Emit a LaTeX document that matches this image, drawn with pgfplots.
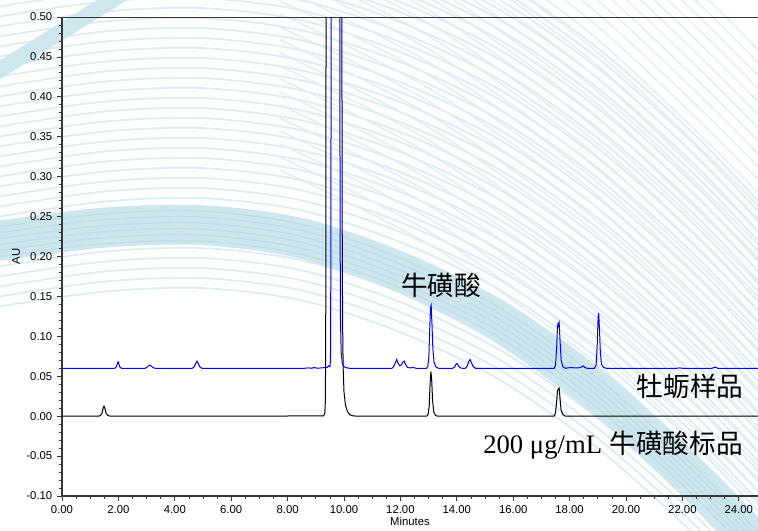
\documentclass[border=0pt]{standalone}
\usepackage{pgfplots}
\pgfplotsset{compat=1.18}
\usepackage{fontspec}
\setmainfont{Liberation Sans}
\newfontfamily\cjk{Noto Sans CJK SC}
\newfontfamily\latinserif{Liberation Serif}

\definecolor{wmthin}{RGB}{221,235,242}
\definecolor{wmthinB}{RGB}{226,238,244}
\definecolor{wmband}{RGB}{206,231,239}
\definecolor{wmbandline}{RGB}{191,222,232}
\definecolor{axisgray}{RGB}{55,55,55}

\begin{document}
\begin{tikzpicture}
\useasboundingbox (0pt,0pt) rectangle (568.5pt,-398.25pt);

% decorative background swirl (pixel units, y downwards)
\begin{scope}[x=0.75pt,y=-0.75pt]
  \clip (0,0) rectangle (758,531);
  \foreach \d in {-66,-56,...,340} {
    \draw[wmthin, line width=1.3pt, shift={(0,-\d)}]
      plot[smooth] coordinates {(-10,242) (100,226) (200,222) (300,234) (400,266) (500,314) (600,384) (700,474) (790,570)};
  }
  \foreach \d in {-210,-197,...,260} {
    \draw[wmthinB, line width=1.1pt, shift={(0,-\d)}]
      plot[smooth] coordinates {(280,-40) (430,35) (580,140) (690,240) (790,340)};
  }
  \draw[wmband, line width=30pt, line cap=butt]
    plot[smooth] coordinates {(-10,242) (100,228) (200,225) (300,238) (400,272) (500,322) (600,394) (700,486) (790,580)};
  \foreach \o in {-14,-8,...,16} {
    \draw[wmbandline, line width=1pt, shift={(0,\o)}]
      plot[smooth] coordinates {(-10,242) (100,228) (200,225) (300,238) (400,272) (500,322) (600,394) (700,486) (790,580)};
  }
  \draw[wmband, line width=12pt] (-10,76) -- (125,-8);
\end{scope}

\begin{axis}[
  at={(46.5pt,-372pt)}, anchor=south west,
  scale only axis, width=522pt, height=359.25pt,
  xmin=0, xmax=24.68, ymin=-0.1, ymax=0.5,
  axis x line*=bottom, axis y line*=left,
  axis line style={axisgray, line width=0.8pt},
  xtick={0,2,...,24}, ytick={-0.1,-0.05,...,0.51},
  minor x tick num=3, minor y tick num=4,
  tick align=outside,
  major tick length=3.75pt, minor tick length=2.2pt,
  every tick/.style={axisgray, line width=0.6pt},
  tick label style={font=\fontsize{8.5}{10}\selectfont},
  /pgf/number format/.cd, fixed, fixed zerofill, precision=2, assume math mode=true,
  /pgfplots/.cd,
  xlabel={Minutes}, ylabel={AU},
  label style={font=\fontsize{8.5}{10}\selectfont},
  xlabel style={yshift=4pt},
  ylabel style={yshift=-2pt},
  clip=true,
]
\draw[axisgray, line width=0.8pt] (rel axis cs:0,1) -- (rel axis cs:1,1);

% 200 ug/mL taurine standard
\addplot[black, line width=0.75pt] coordinates {
(0.00,0.0000) (1.30,0.0000) (1.37,0.0010) (1.42,0.0040) (1.46,0.0100) (1.49,0.0125)
(1.52,0.0100) (1.56,0.0040) (1.62,0.0010) (1.70,0.0000)
(5.00,0.0000) (9.28,0.0003) (9.32,0.0040) (9.34,0.0200) (9.355,0.1500) (9.365,0.6000)
(9.50,0.9500) (9.80,0.9500) (9.92,0.6000) (9.935,0.2500) (9.95,0.1200) (9.97,0.0600)
(10.00,0.0300) (10.05,0.0140) (10.12,0.0060) (10.20,0.0020) (10.30,0.0005) (10.45,0.0000)
(12.93,0.0000) (12.98,0.0020) (13.02,0.0120) (13.05,0.0380) (13.08,0.0560) (13.11,0.0450)
(13.14,0.0200) (13.18,0.0060) (13.24,0.0010) (13.32,0.0000)
(17.45,0.0000) (17.50,0.0040) (17.54,0.0180) (17.57,0.0320) (17.60,0.0340) (17.63,0.0350)
(17.66,0.0220) (17.70,0.0070) (17.76,0.0020) (17.85,0.0000)
(24.68,0.0000)
};

% oyster sample
\addplot[blue, line width=0.75pt] coordinates {
(0.00,0.0600) (1.85,0.0600) (1.90,0.0605) (1.94,0.0630) (1.97,0.0670) (1.99,0.0680)
(2.02,0.0650) (2.06,0.0610) (2.12,0.0600)
(2.95,0.0600) (3.02,0.0615) (3.08,0.0635) (3.12,0.0640) (3.17,0.0625) (3.24,0.0605) (3.32,0.0600)
(4.62,0.0600) (4.69,0.0620) (4.74,0.0660) (4.79,0.0690) (4.83,0.0660) (4.88,0.0620) (4.96,0.0600)
(8.60,0.0600) (8.75,0.0605) (8.85,0.0600) (8.95,0.0610) (9.05,0.0600) (9.20,0.0605)
(9.40,0.0610) (9.46,0.0630) (9.50,0.0620) (9.52,0.0700) (9.535,0.2000) (9.545,0.6000)
(9.65,0.9500) (9.78,0.9500) (9.85,0.6000) (9.86,0.2500) (9.875,0.1200) (9.90,0.0800)
(9.94,0.0660) (10.00,0.0620) (10.10,0.0605) (10.20,0.0600)
(11.70,0.0600) (11.76,0.0620) (11.82,0.0670) (11.87,0.0710) (11.92,0.0660) (11.98,0.0630)
(12.04,0.0645) (12.09,0.0680) (12.13,0.0690) (12.18,0.0650) (12.25,0.0610) (12.35,0.0605)
(12.45,0.0610) (12.55,0.0600)
(12.92,0.0600) (12.97,0.0620) (13.01,0.0750) (13.04,0.1100) (13.07,0.1370) (13.09,0.1390)
(13.12,0.1150) (13.15,0.0850) (13.19,0.0680) (13.25,0.0620) (13.35,0.0600)
(13.85,0.0600) (13.92,0.0615) (13.97,0.0650) (14.01,0.0660) (14.06,0.0630) (14.13,0.0605) (14.20,0.0600)
(14.30,0.0600) (14.37,0.0630) (14.43,0.0690) (14.47,0.0710) (14.52,0.0670) (14.58,0.0620) (14.66,0.0600)
(17.45,0.0600) (17.50,0.0640) (17.54,0.0850) (17.57,0.1120) (17.59,0.1160) (17.61,0.1130)
(17.63,0.1160) (17.66,0.0950) (17.70,0.0700) (17.76,0.0620) (17.85,0.0600)
(17.95,0.0605) (18.05,0.0610) (18.15,0.0605) (18.30,0.0605) (18.42,0.0615) (18.48,0.0630)
(18.54,0.0610) (18.62,0.0600)
(18.88,0.0600) (18.94,0.0640) (18.98,0.0900) (19.01,0.1240) (19.03,0.1290) (19.06,0.1080)
(19.09,0.0800) (19.13,0.0650) (19.20,0.0610) (19.30,0.0600)
(21.80,0.0600) (21.90,0.0605) (22.00,0.0600)
(23.05,0.0600) (23.15,0.0615) (23.25,0.0600) (24.68,0.0600)
};

\node[font=\cjk\fontsize{20}{24}\selectfont, inner sep=0pt] at (axis cs:13.44,0.164) {牛磺酸};
\node[font=\cjk\fontsize{20}{24}\selectfont, inner sep=0pt] at (axis cs:22.27,0.0376) {牡蛎样品};
\node[font=\fontsize{20}{24}\selectfont, inner sep=0pt] at (axis cs:19.54,-0.036)
  {{\latinserif 200 μg/mL} {\cjk 牛磺酸标品}};
\end{axis}
\end{tikzpicture}
\end{document}
